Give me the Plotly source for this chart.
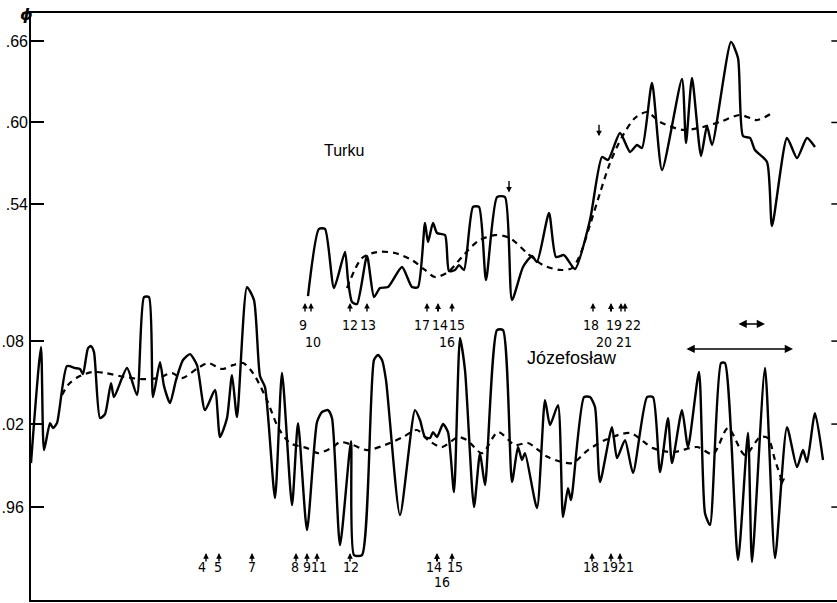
import plotly.graph_objects as go

# ---------------- data (time in arbitrary units, phase phi) ----------------
turku_t = [27.7, 28.8, 29.4, 30.3, 31.4, 31.7, 32.1, 32.6, 33.6, 34.3, 34.9, 35.7, 37.1, 38.1, 38.7,
           39.4, 39.7, 40.2, 40.6, 41.4, 41.8, 42.4, 42.8, 43.3, 44.2, 44.8, 45.5, 46.6, 47.4, 48.1,
           49.2, 50.1, 50.6, 51.8, 52.5, 53.3, 54.4, 55.9, 57.1, 57.7, 58.9, 59.9, 60.6, 61.1, 62.1,
           63.1, 65.1, 65.5, 66.1, 67.0, 67.6, 68.1, 70.0, 70.7, 71.2, 71.9, 72.4, 73.6, 74.1, 75.6,
           76.6, 77.6, 78.4]
turku_phi = [0.4722, 0.5216, 0.5216, 0.4781, 0.5046, 0.4840, 0.4678, 0.4663, 0.5017, 0.4715, 0.4781,
             0.4788, 0.4936, 0.4788, 0.4788, 0.5260, 0.5120, 0.5260, 0.5186, 0.5171, 0.4906, 0.4914,
             0.4950, 0.4914, 0.5378, 0.5378, 0.4840, 0.5451, 0.5451, 0.4693, 0.4936, 0.5017, 0.4973,
             0.5333, 0.5009, 0.5024, 0.4921, 0.5282, 0.5746, 0.5724, 0.5923, 0.5783, 0.5834, 0.5812,
             0.6291, 0.5650, 0.6320, 0.5849, 0.6328, 0.5753, 0.5974, 0.5834, 0.6593, 0.6475, 0.5900,
             0.5886, 0.5797, 0.5709, 0.5238, 0.5886, 0.5738, 0.5886, 0.5819]

turku_smooth_t = [31.6, 33.1, 34.6, 36.4, 38.1, 39.4, 40.4, 41.7, 43.1, 44.7, 46.4, 47.9, 49.6, 51.2,
                  52.9, 54.1, 54.9, 55.9, 56.9, 57.9, 59.1, 60.4, 61.6, 62.9, 65.2, 67.2, 68.9, 70.9,
                  72.6, 74.1]
turku_smooth_phi = [0.4781, 0.5002, 0.5046, 0.5039, 0.4987, 0.4914, 0.4862, 0.4899, 0.5009, 0.5127,
                    0.5171, 0.5149, 0.5039, 0.4950, 0.4914, 0.4928, 0.5024, 0.5245, 0.5481, 0.5702,
                    0.5893, 0.6033, 0.6077, 0.6004, 0.5945, 0.5967, 0.6004, 0.6055, 0.6018, 0.6070]

jozef_t = [0.0, 1.0, 1.3, 1.9, 2.2, 2.6, 3.6, 4.4, 4.9, 5.2, 5.7, 6.0, 6.3, 6.9, 7.4, 8.0, 8.3, 9.6,
           10.6, 11.3, 11.8, 12.2, 12.9, 13.3, 13.9, 14.5, 15.2, 15.9, 16.6, 17.4, 18.4, 18.9, 19.6,
           20.1, 20.6, 21.6, 22.3, 22.9, 23.4, 24.4, 25.1, 26.1, 26.7, 27.6, 28.6, 29.1, 29.7, 30.1,
           30.9, 32.0, 32.3, 33.1, 34.3, 34.7, 35.1, 35.5, 36.9, 38.4, 38.9, 39.4, 39.9, 40.2, 40.6,
           41.2, 41.7, 42.3, 42.9, 43.4, 44.3, 44.9, 45.4, 46.6, 47.2, 48.1, 48.7, 49.1, 49.4, 50.6,
           51.4, 51.9, 52.7, 53.2, 53.7, 54.0, 55.3, 55.9, 56.4, 56.9, 58.1, 58.6, 59.4, 60.2, 61.6,
           62.2, 62.9, 63.7, 64.1, 65.1, 65.7, 66.8, 67.4, 67.9, 69.0, 69.4, 70.7, 71.7, 72.1, 73.4,
           74.4, 75.6, 76.6, 77.2, 77.6, 78.4, 79.2]
jozef_phi = [0.9918, 1.0757, 1.0012, 1.0207, 1.0171, 1.0207, 1.0619, 1.0605, 1.0598, 1.0561, 1.0749,
             1.0764, 1.0720, 1.0243, 1.0272, 1.0496, 1.0395, 1.0605, 1.0410, 1.1118, 1.1118, 1.0395,
             1.0648, 1.0475, 1.0352, 1.0518, 1.0663, 1.0706, 1.0626, 1.0301, 1.0446, 1.0106, 1.0243,
             1.0554, 1.0251, 1.1190, 1.1096, 1.0547, 1.0467, 0.9665, 1.0569, 0.9614, 1.0207, 0.9434,
             1.0214, 1.0287, 1.0301, 1.0243, 0.9325, 1.0077, 0.9253, 0.9253, 1.0663, 1.0699, 1.0663,
             1.0518, 0.9542, 1.0301, 1.0229, 1.0106, 1.0099, 1.0142, 1.0106, 1.0200, 1.0142, 0.9708,
             1.0822, 1.0590, 0.9600, 0.9990, 0.9759, 1.0880, 1.0880, 0.9781, 1.0034, 0.9940, 0.9990,
             0.9593, 1.0373, 1.0193, 1.0337, 0.9528, 0.9737, 0.9650, 1.0395, 1.0395, 1.0323, 0.9781,
             1.0178, 0.9954, 1.0084, 0.9846, 1.0395, 1.0395, 0.9853, 1.0243, 0.9918, 1.0301, 1.0034,
             1.0576, 0.9556, 0.9470, 1.0641, 1.0641, 0.9217, 1.0135, 0.9202, 1.0605, 0.9231, 1.0178,
             0.9889, 1.0012, 0.9925, 1.0279, 0.9940]

jozef_smooth_t = [3.1, 3.7, 4.7, 6.1, 7.4, 9.4, 11.1, 12.7, 14.1, 15.1, 16.7, 17.7, 19.1, 20.2, 21.2,
                  22.2, 23.6, 24.7, 25.9, 27.6, 28.7, 30.2, 30.9, 32.2, 33.6, 35.9, 37.2, 38.6, 39.7,
                  41.1, 42.7, 43.6, 45.1, 46.7, 48.4, 49.7, 51.7, 54.1, 55.7, 57.4, 59.9, 62.2, 64.2,
                  66.6, 68.2, 69.7, 71.4, 72.9, 73.7, 74.4, 75.1]
jozef_smooth_phi = [1.0410, 1.0482, 1.0540, 1.0576, 1.0569, 1.0540, 1.0525, 1.0532, 1.0569, 1.0532,
                    1.0605, 1.0641, 1.0598, 1.0626, 1.0641, 1.0569, 1.0373, 1.0178, 1.0063, 1.0026,
                    0.9990, 1.0034, 1.0070, 1.0048, 1.0012, 1.0063, 1.0106, 1.0157, 1.0084, 1.0034,
                    1.0106, 1.0084, 0.9990, 1.0142, 1.0048, 1.0063, 0.9961, 0.9918, 1.0012, 1.0084,
                    1.0135, 1.0026, 0.9997, 1.0034, 0.9983, 1.0171, 0.9976, 1.0106, 1.0099, 0.9940,
                    0.9788]

# tick labels
upper_tickvals = [0.54, 0.60, 0.66]
upper_ticktext = [".54", ".60", ".66"]
lower_tickvals = [0.96, 1.02, 1.08]
lower_ticktext = [".96", ".02", ".08"]

# event markers
turku_event_t = [27.4, 28.0, 31.9, 33.6, 39.6, 40.7, 42.1, 56.2, 58.0, 59.0, 59.4]
turku_event_bold = [False, False, False, False, False, True, False, False, True, False, False]
turku_text_items = [("9", 27.2, 1), ("10", 28.2, 2), ("12", 31.9, 1), ("13", 33.7, 1), ("17", 39.1, 1),
                    ("14", 40.9, 1), ("15", 42.6, 1), ("16", 41.6, 2), ("18", 56.0, 1), ("20", 57.3, 2),
                    ("19", 58.3, 1), ("21", 59.3, 2), ("22", 60.2, 1)]
jozef_event_t = [17.5, 18.8, 22.1, 26.5, 27.6, 28.6, 31.9, 40.6, 42.1, 56.1, 58.0, 58.9]
jozef_event_bold = [False, False, False, False, False, False, False, True, False, False, False, False]
jozef_text_items = [("4", 17.1, 1), ("5", 18.7, 1), ("7", 22.1, 1), ("8", 26.4, 1), ("9", 27.6, 1),
                    ("11", 28.8, 1), ("12", 32.0, 1), ("14", 40.3, 1), ("15", 42.4, 1), ("16", 41.1, 2),
                    ("18", 56.0, 1), ("19", 57.9, 1), ("21", 59.5, 1)]

FONT = "DejaVu Sans Condensed, Liberation Sans, Arial, sans-serif"

fig = go.Figure()
fig.add_trace(go.Scatter(x=jozef_t, y=jozef_phi, mode="lines", yaxis="y",
                         line=dict(color="black", width=2.4, shape="spline", smoothing=0.6)))
fig.add_trace(go.Scatter(x=jozef_smooth_t, y=jozef_smooth_phi, mode="lines", yaxis="y",
                         line=dict(color="black", width=2.2, dash="6px,5px", shape="spline", smoothing=0.8)))
fig.add_trace(go.Scatter(x=turku_t, y=turku_phi, mode="lines", yaxis="y2",
                         line=dict(color="black", width=2.4, shape="spline", smoothing=0.6)))
fig.add_trace(go.Scatter(x=turku_smooth_t, y=turku_smooth_phi, mode="lines", yaxis="y2",
                         line=dict(color="black", width=2.2, dash="6px,5px", shape="spline", smoothing=0.8)))

ann = []


def up_arrow(x, ytip, bold):
    return dict(x=x, y=ytip, xref="x", yref="paper", text="", showarrow=True,
                ax=0, ay=10, arrowhead=2, arrowsize=0.6 if bold else 0.8,
                arrowwidth=2.0 if bold else 1.4, arrowcolor="black")


for t, b in zip(turku_event_t, turku_event_bold):
    ann.append(up_arrow(t, 0.506, b))
for lab, t, row in turku_text_items:
    ann.append(dict(x=t, y=0.469 if row == 1 else 0.440, xref="x", yref="paper", text=lab,
                    showarrow=False, font=dict(family=FONT, size=14, color="black")))
for t, b in zip(jozef_event_t, jozef_event_bold):
    ann.append(up_arrow(t, 0.080, b))
for lab, t, row in jozef_text_items:
    ann.append(dict(x=t, y=0.040 if row == 1 else 0.013, xref="x", yref="paper", text=lab,
                    showarrow=False, font=dict(family=FONT, size=14, color="black")))

# down arrows above Turku
for t, ytip in [(47.8, 0.694), (56.8, 0.790)]:
    ann.append(dict(x=t, y=ytip, xref="x", yref="paper", text="", showarrow=True,
                    ax=0, ay=-13, arrowhead=2, arrowsize=0.8, arrowwidth=1.4, arrowcolor="black"))
# small arrow at end of Józefosław smooth curve
ann.append(dict(x=75.1, y=0.9760, xref="x", yref="y", text="", showarrow=True,
                ax=0, ay=-6, arrowhead=2, arrowsize=0.9, arrowwidth=1.4, arrowcolor="black"))

# double-headed arrows
for x0, x1, yp in [(65.4, 76.2, 0.4276), (70.6, 73.4, 0.4702)]:
    ann.append(dict(x=x1, y=yp, xref="x", yref="paper", ax=x0, ay=0, axref="x", ayref="pixel",
                    text="", showarrow=True, arrowside="end+start", arrowhead=2, arrowsize=1.1,
                    arrowwidth=1.5, arrowcolor="black"))

# labels
ann.append(dict(x=31.3, y=0.7836, xref="x", yref="paper", text="Turku", showarrow=False,
                font=dict(family="Liberation Sans, Arial, sans-serif", size=16, color="black")))
ann.append(dict(x=54.1, y=0.412, xref="x", yref="paper", text="Józefosław", showarrow=False,
                font=dict(family="Liberation Sans, Arial, sans-serif", size=18, color="black")))
ann.append(dict(x=-0.016, y=0.998, xref="paper", yref="paper", yanchor="middle",
                text="<b><i>ϕ</i></b>", showarrow=False,
                font=dict(family="DejaVu Sans, sans-serif", size=16, color="black")))

# right-side inner ticks
shapes = []
for v in upper_tickvals:
    shapes.append(dict(type="line", xref="paper", yref="y2", x0=0.993, x1=1.0, y0=v, y1=v,
                       line=dict(color="black", width=1.5)))
for v in lower_tickvals:
    shapes.append(dict(type="line", xref="paper", yref="y", x0=0.993, x1=1.0, y0=v, y1=v,
                       line=dict(color="black", width=1.5)))

tickfont = dict(family="Liberation Sans, Arial, sans-serif", size=16, color="black")
fig.update_layout(
    width=837, height=603,
    margin=dict(l=31, r=0, t=13, b=3, autoexpand=False),
    paper_bgcolor="white", plot_bgcolor="white",
    showlegend=False,
    xaxis=dict(range=[0, 80.6], showline=True, mirror=True, linecolor="black", linewidth=2,
               showticklabels=False, ticks="", showgrid=False, zeroline=False, automargin=False),
    yaxis=dict(range=[0.8928, 1.3172], tickvals=lower_tickvals, ticktext=lower_ticktext,
               ticks="inside", ticklen=13, tickwidth=1.5, tickcolor="black", showline=True,
               linecolor="black", linewidth=2, showgrid=False, zeroline=False, tickfont=tickfont,
               automargin=False, ticklabelstandoff=2),
    yaxis2=dict(range=[0.2484, 0.6806], overlaying="y", side="left", anchor="x",
                tickvals=upper_tickvals, ticktext=upper_ticktext,
                ticks="inside", ticklen=13, tickwidth=1.5, tickcolor="black", showline=False,
                showgrid=False, zeroline=False, tickfont=tickfont, automargin=False,
                ticklabelstandoff=2),
    annotations=ann,
    shapes=shapes,
)

# remove the browser's default 8px page margin so the figure sits at the page origin
fig.write_html("out.html", config={"displayModeBar": False},
               post_script="document.body.style.margin='0px';")
